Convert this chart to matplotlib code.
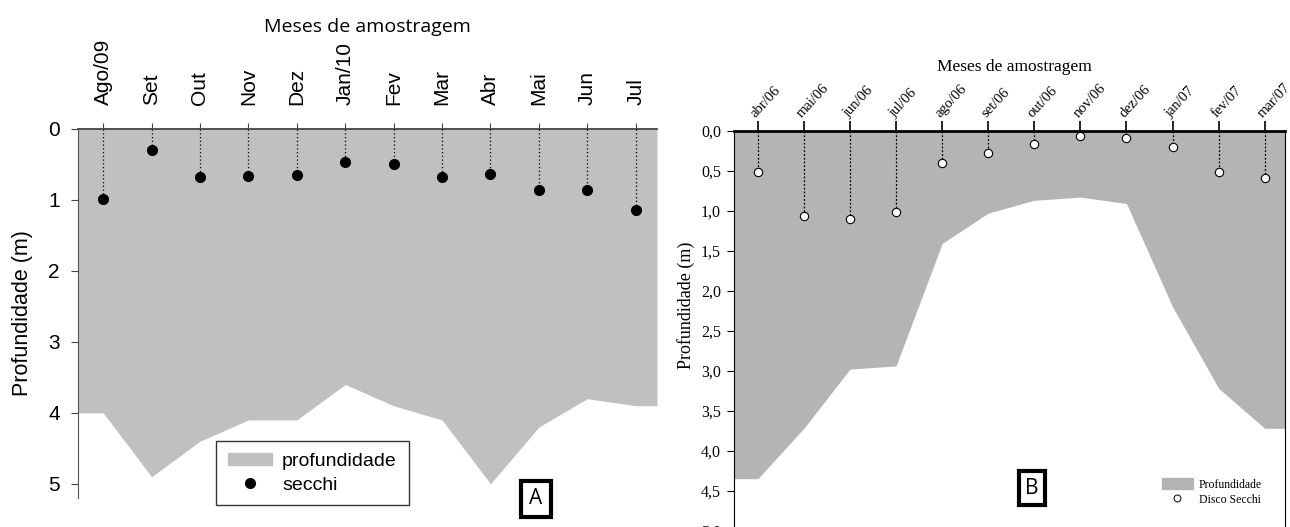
import numpy as np
import matplotlib
matplotlib.use("Agg")
import matplotlib.pyplot as plt
from matplotlib.patches import Patch
from matplotlib.lines import Line2D

# Painel A (Ago/09 - Jul/10)
meses_a = ["Ago/09", "Set", "Out", "Nov", "Dez", "Jan/10", "Fev", "Mar",
           "Abr", "Mai", "Jun", "Jul"]
prof_a = [4.0, 4.9, 4.4, 4.1, 4.1, 3.6, 3.9, 4.1, 5.0, 4.2, 3.8, 3.9]
secchi_a = [0.98, 0.29, 0.67, 0.66, 0.65, 0.47, 0.49, 0.67, 0.63, 0.86, 0.86, 1.14]

# Painel B (abr/06 - mar/07)
meses_b = ["abr/06", "mai/06", "jun/06", "jul/06", "ago/06", "set/06", "out/06",
           "nov/06", "dez/06", "jan/07", "fev/07", "mar/07"]
prof_b = [4.35, 3.72, 2.98, 2.94, 1.41, 1.03, 0.87, 0.83, 0.91, 2.2, 3.22, 3.72]
secchi_b = [0.51, 1.07, 1.10, 1.02, 0.40, 0.28, 0.17, 0.07, 0.09, 0.20, 0.52, 0.59]
yticks_b = [0.0, 0.5, 1.0, 1.5, 2.0, 2.5, 3.0, 3.5, 4.0, 4.5, 5.0]

W, H = 1290, 527
fig = plt.figure(figsize=(W / 100, H / 100), dpi=100)


def px(x0, y0, x1, y1):
    # pixel box -> figure fraction [left, bottom, width, height]
    return [x0 / W, 1 - y1 / H, (x1 - x0) / W, (y1 - y0) / H]


sans = "Liberation Sans"
serif = "Liberation Serif"

# ---------------- A ----------------
axA = fig.add_axes(px(78, 129, 657, 498))
xa = np.arange(len(meses_a))
xlimA = (-0.52, 11.44)
axA.fill_between([xlimA[0]] + list(xa) + [xlimA[1]], 0,
                 [prof_a[0]] + prof_a + [prof_a[-1]],
                 color="#c0c0c0", lw=0)
axA.vlines(xa, 0, secchi_a, colors="black", linestyles=(0, (1, 2)), lw=0.9)
axA.plot(xa, secchi_a, "o", color="black", ms=7)
axA.set_xlim(*xlimA)
axA.set_ylim(5.2, 0)
axA.xaxis.tick_top()
axA.set_xticks(xa)
axA.set_xticklabels(meses_a, rotation=90, fontsize=15, family=sans)
axA.set_yticks([0, 1, 2, 3, 4, 5])
axA.set_yticklabels(["0", "1", "2", "3", "4", "5"], fontsize=15, family=sans)
axA.tick_params(axis="x", direction="out", length=4, pad=13, color="#444444")
axA.tick_params(axis="y", direction="out", length=5, pad=8, color="#444444")
for s in ["right", "bottom"]:
    axA.spines[s].set_visible(False)
axA.spines["top"].set_color("#444444")
axA.spines["top"].set_linewidth(1.3)
axA.spines["left"].set_color("#555555")
axA.patch.set_alpha(0)

fig.text(367 / W, 1 - 27 / H, "Meses de amostragem", ha="center", va="center",
         fontsize=14, family="Open Sans")
fig.text(23 / W, 1 - 313 / H, "Profundidade (m)", ha="center", va="center",
         rotation=90, fontsize=15.5, family=sans)

legA = axA.legend(
    handles=[Patch(color="#c0c0c0", label="profundidade"),
             Line2D([], [], ls="", marker="o", color="black", ms=7, label="secchi")],
    loc="upper left", bbox_to_anchor=(216 / W, 1 - 441 / H),
    bbox_transform=fig.transFigure, frameon=True, fancybox=False,
    prop={"family": sans, "size": 14}, handlelength=2.3, handleheight=0.6,
    borderpad=0.6, labelspacing=0.35, handletextpad=0.5, borderaxespad=0)
legA.get_frame().set_edgecolor("black")
legA.get_frame().set_linewidth(1)

fig.text(536 / W, 1 - 499 / H, "A", ha="center", va="center", fontsize=15,
         family="Open Sans",
         bbox=dict(boxstyle="square,pad=0.38", fc="white", ec="black", lw=3))

# ---------------- B ----------------
axB = fig.add_axes(px(733.6, 130.7, 1285, 530.7))
xb = np.arange(len(meses_b))
xlimB = (-0.525, 11.44)
axB.fill_between([xlimB[0]] + list(xb) + [xlimB[1]], 0,
                 [prof_b[0]] + prof_b + [prof_b[-1]],
                 color="#b4b4b4", lw=0)
axB.vlines(xb, 0, secchi_b, colors="black", linestyles=(0, (1.5, 1.5)), lw=0.9)
axB.plot(xb, secchi_b, "o", mfc="white", mec="black", mew=0.8, ms=6)
axB.set_xlim(*xlimB)
axB.set_ylim(5.0, 0)
axB.xaxis.tick_top()
axB.set_xticks(xb)
axB.set_xticklabels(meses_b, rotation=47, ha="left", va="bottom",
                    rotation_mode="anchor", fontsize=10.5, family=serif)
axB.set_yticks(yticks_b)
axB.set_yticklabels([f"{v:.1f}".replace(".", ",") for v in yticks_b],
                    fontsize=11.5, family=serif)
axB.tick_params(axis="x", direction="out", length=7, pad=1, width=1.2)
axB.tick_params(axis="y", direction="out", length=5, pad=4)
axB.spines["top"].set_linewidth(2)
axB.spines["bottom"].set_visible(False)
axB.patch.set_alpha(0)

fig.text(1014 / W, 1 - 67 / H, "Meses de amostragem", ha="center", va="center",
         fontsize=12.5, family=serif)
fig.text(686 / W, 1 - 305 / H, "Profundidade (m)", ha="center", va="center",
         rotation=90, fontsize=13, family=serif)

legB = axB.legend(
    handles=[Patch(color="#b4b4b4", label="Profundidade"),
             Line2D([], [], ls="", marker="o", mfc="white", mec="black",
                    mew=0.7, ms=5, label="Disco Secchi")],
    loc="upper left", bbox_to_anchor=(1162 / W, 1 - 478 / H),
    bbox_transform=fig.transFigure, frameon=False,
    prop={"family": serif, "size": 8.5}, handlelength=2.6, handleheight=1.1,
    borderpad=0, labelspacing=0.2, handletextpad=0.5, borderaxespad=0)

fig.text(1032 / W, 1 - 488 / H, "B", ha="center", va="center", fontsize=15,
         family="Open Sans",
         bbox=dict(boxstyle="square,pad=0.3", fc="white", ec="black", lw=3))

fig.savefig("out.png", dpi=100)
